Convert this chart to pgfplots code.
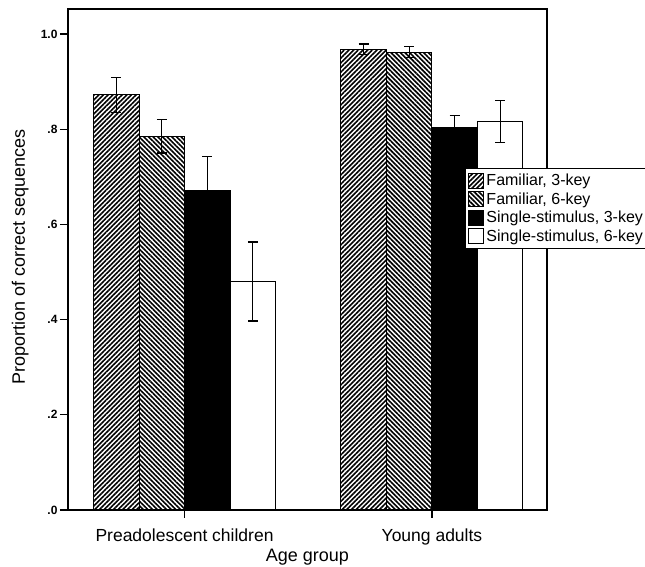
\documentclass[border=0pt]{standalone}
\usepackage{pgfplots}
\pgfplotsset{compat=1.18}
\usepackage{fontspec}
\setmainfont{Liberation Sans}
\usetikzlibrary{patterns.meta}

\begin{document}
\begin{tikzpicture}
\path[use as bounding box] (0pt,0pt) rectangle (645pt,567pt);
\begin{axis}[
  at={(68pt,57pt)}, anchor=south west,
  scale only axis, width=479pt, height=501pt,
  xmin=-0.471, xmax=1.465, ymin=0, ymax=1.0525,
  clip=false,
  ybar=0pt, bar width=45.5pt,
  xtick={0,1}, xticklabels={Preadolescent children, Young adults},
  ytick={0,0.2,0.4,0.6,0.8,1.0}, yticklabels={.0,.2,.4,.6,.8,1.0},
  tick align=outside,
  xtick pos=left, ytick pos=left,
  axis line style={line width=1.2pt},
  xtick style={black, line width=1.2pt},
  ytick style={black, line width=1.2pt},
  major tick length=8pt,
  xticklabel style={font=\fontsize{17.5}{20}\selectfont, yshift=-7pt},
  yticklabel style={font=\bfseries\fontsize{12}{14}\selectfont, xshift=1pt},
  xlabel={Age group},
  ylabel={Proportion of correct sequences},
  xlabel style={font=\fontsize{18}{21}\selectfont, at={(axis description cs:0.5,-0.1018)}, anchor=base},
  ylabel style={font=\fontsize{18}{21}\selectfont, at={(axis description cs:-0.0898,0.505)}, anchor=base},
  error bars/y dir=both,
  error bars/y explicit,
  error bars/error bar style={line width=1.3pt, black},
  error bars/error mark options={rotate=90, mark size=5pt, line width=1.3pt, black},
  legend image code/.code={\draw[#1] (0pt,-7.5pt) rectangle (15pt,7.5pt);},
  legend style={at={(axis description cs:0.8288,0.6826)}, anchor=north west,
    draw=black, line width=1pt, fill=white,
    font=\fontsize{16}{18}\selectfont,
    inner xsep=3pt, inner ysep=3.5pt, row sep=1.5pt},
  legend cell align=left,
]
\addplot[draw=black, line width=1pt, pattern={Lines[angle=45,distance=3.3pt,line width=1.6pt]}]
  coordinates {(0,0.872) +- (0,0.037) (1,0.968) +- (0,0.011)};
\addplot[draw=black, line width=1pt, pattern={Lines[angle=-45,distance=3.3pt,line width=1.6pt]}]
  coordinates {(0,0.785) +- (0,0.035) (1,0.962) +- (0,0.011)};
\addplot[draw=black, line width=1pt, fill=black]
  coordinates {(0,0.671) +- (0,0.071) (1,0.804) +- (0,0.025)};
\addplot[draw=black, line width=1pt, fill=white]
  coordinates {(0,0.480) +- (0,0.083) (1,0.816) +- (0,0.044)};
\legend{Familiar{,} 3-key, Familiar{,} 6-key, Single-stimulus{,} 3-key, Single-stimulus{,} 6-key}
\coordinate (ya) at (axis cs:-0.471,0);
\coordinate (yb) at (axis cs:-0.471,0.2);
\coordinate (yc) at (axis cs:-0.471,0.4);
\coordinate (yd) at (axis cs:-0.471,0.6);
\coordinate (ye) at (axis cs:-0.471,0.8);
\coordinate (yf) at (axis cs:-0.471,1.0);
\coordinate (xa) at (axis cs:0,0);
\coordinate (xb) at (axis cs:1,0);
\end{axis}
% tick marks on the labelled sides, drawn on top
\foreach \c in {ya,yb,yc,yd,ye,yf}{
  \draw[black, line width=1.2pt] (\c) -- ++(-8pt,0pt);
}
\foreach \c in {xa,xb}{
  \draw[black, line width=1.2pt] (\c) -- ++(0pt,-8pt);
}
\end{tikzpicture}
\end{document}
